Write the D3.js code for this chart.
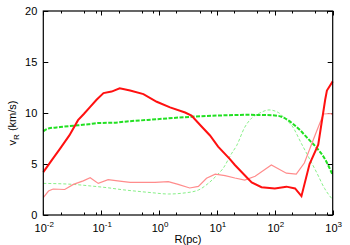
<!DOCTYPE html>
<html>
<head>
<meta charset="utf-8">
<script src="https://cdn.jsdelivr.net/npm/d3@7"></script>
<style>
  body { margin: 0; background: #fff; }
  text { font-family: "Liberation Sans", Arial, sans-serif; fill: #000; }
</style>
</head>
<body>
<div id="chart"></div>
<script>
// values; R given as log10(R/pc)
var thickRedLogR = [-2.0, -1.85, -1.71, -1.55, -1.4, -1.3, -1.19, -1.08, -0.96, -0.82, -0.68, -0.5, -0.27, -0.04, 0.19, 0.45, 0.56, 0.73, 0.88, 1.02, 1.22, 1.31, 1.48, 1.6, 1.77, 2.0, 2.2, 2.35, 2.46, 2.6, 2.75, 2.87, 2.9, 3.0];
var thickRedV = [4.2, 5.4, 6.5, 7.8, 9.3, 9.9, 10.6, 11.3, 11.95, 12.1, 12.42, 12.2, 11.85, 11.1, 10.55, 10.05, 9.75, 8.7, 7.8, 6.7, 5.5, 4.9, 3.9, 3.2, 2.72, 2.6, 2.78, 2.6, 1.85, 5.0, 6.9, 11.3, 12.2, 13.1];

var thinRedLogR = [-2.0, -1.91, -1.83, -1.63, -1.48, -1.31, -1.19, -1.05, -0.88, -0.68, -0.5, -0.07, 0.16, 0.33, 0.53, 0.68, 0.82, 0.97, 1.14, 1.31, 1.48, 1.66, 1.94, 2.2, 2.37, 2.51, 2.7, 2.84, 2.97, 3.0];
var thinRedV = [1.7, 2.35, 2.55, 2.5, 3.0, 3.35, 3.66, 3.1, 3.46, 3.33, 3.2, 3.2, 3.27, 3.0, 2.65, 2.8, 3.6, 4.0, 3.86, 3.63, 3.43, 3.8, 4.9, 4.1, 4.0, 5.1, 7.9, 9.9, 9.95, 9.8];

var thickGreenLogR = [-2.0, -1.91, -1.71, -1.48, -1.22, -1.05, -0.79, -0.5, -0.2, 0.16, 0.56, 1.02, 1.5, 1.85, 2.06, 2.17, 2.3, 2.43, 2.57, 2.72, 2.86, 3.0];
var thickGreenV = [8.2, 8.48, 8.62, 8.75, 8.9, 9.02, 9.05, 9.2, 9.32, 9.48, 9.63, 9.75, 9.82, 9.8, 9.72, 9.5, 9.0, 8.35, 7.5, 6.6, 5.55, 3.9];

var thinGreenLogR = [-2.0, -1.48, -1.19, -0.9, -0.62, -0.33, -0.13, 0.16, 0.45, 0.68, 0.85, 1.0, 1.11, 1.25, 1.34, 1.48, 1.6, 1.74, 1.9, 2.06, 2.2, 2.29, 2.46, 2.6, 2.72, 2.86, 3.0];
var thinGreenV = [3.1, 3.0, 2.85, 2.68, 2.47, 2.3, 2.19, 2.06, 2.17, 2.45, 3.1, 3.9, 4.6, 6.0, 6.8, 8.6, 9.5, 10.0, 10.3, 10.05, 9.3, 8.8, 7.0, 5.5, 4.2, 2.6, 1.5];

var xTickExp = [-2, -1, 0, 1, 2, 3];
var xMinorMult = [2, 5, 8];
var yTicks = [0, 5, 10, 15, 20];

(function() {
  "use strict";

  var width = 350,
    height = 245,
    pLeft = 43.3,
    pRight = 332.7,
    pTop = 11,
    pBottom = 215;

  var svg = d3.select('#chart')
    .append('svg')
    .attr('width', width)
    .attr('height', height);

  var x = d3.scaleLog().domain([0.01, 1000]).range([pLeft, pRight]);
  var y = d3.scaleLinear().domain([0, 20]).range([pBottom, pTop]);

  // ticks, gnuplot style: inside, mirrored
  var minor = [];
  xTickExp.slice(0, -1).forEach(function(e) {
    xMinorMult.forEach(function(m) { minor.push(m * Math.pow(10, e)); });
  });

  var ticks = svg.append('g').attr('stroke', '#000').attr('stroke-width', 1);
  xTickExp.forEach(function(e) {
    var px = Math.round(x(Math.pow(10, e))) + 0.5;
    ticks.append('line').attr('x1', px).attr('x2', px).attr('y1', pBottom).attr('y2', pBottom - 4.5);
    ticks.append('line').attr('x1', px).attr('x2', px).attr('y1', pTop).attr('y2', pTop + 4.5);
  });
  minor.forEach(function(v) {
    var px = Math.round(x(v)) + 0.5;
    ticks.append('line').attr('x1', px).attr('x2', px).attr('y1', pBottom).attr('y2', pBottom - 2.5);
    ticks.append('line').attr('x1', px).attr('x2', px).attr('y1', pTop).attr('y2', pTop + 2.5);
  });
  yTicks.forEach(function(v) {
    var py = Math.round(y(v)) + 0.5;
    ticks.append('line').attr('x1', pLeft).attr('x2', pLeft + 5).attr('y1', py).attr('y2', py);
    ticks.append('line').attr('x1', pRight).attr('x2', pRight - 5).attr('y1', py).attr('y2', py);
  });

  // curves
  var series = [
    { lx: thinGreenLogR, v: thinGreenV, color: '#88f088', w: 1, dash: '3,2', curve: d3.curveMonotoneX },
    { lx: thickGreenLogR, v: thickGreenV, color: '#22e022', w: 2, dash: '4,1.5', curve: d3.curveMonotoneX },
    { lx: thinRedLogR, v: thinRedV, color: '#ff8c8c', w: 1.2, dash: null, curve: d3.curveLinear },
    { lx: thickRedLogR, v: thickRedV, color: '#ff1010', w: 2, dash: null, curve: d3.curveLinear }
  ];

  series.forEach(function(s) {
    var pts = s.lx.map(function(e, i) { return [Math.pow(10, e), s.v[i]]; });
    var line = d3.line()
      .x(function(d) { return x(d[0]); })
      .y(function(d) { return y(d[1]); })
      .curve(s.curve);
    svg.append('path')
      .datum(pts)
      .attr('fill', 'none')
      .attr('stroke', s.color)
      .attr('stroke-width', s.w)
      .attr('stroke-dasharray', s.dash)
      .attr('d', line);
  });

  // frame
  svg.append('rect')
    .attr('x', pLeft)
    .attr('y', pTop)
    .attr('width', pRight - pLeft)
    .attr('height', pBottom - pTop)
    .attr('fill', 'none')
    .attr('stroke', '#000')
    .attr('stroke-width', 1.2);

  // tick labels
  yTicks.forEach(function(v) {
    svg.append('text')
      .attr('x', pLeft - 6)
      .attr('y', y(v) + 4)
      .attr('text-anchor', 'end')
      .attr('font-size', 11)
      .text(v);
  });

  xTickExp.forEach(function(e) {
    var t = svg.append('text')
      .attr('x', x(Math.pow(10, e)) + 1)
      .attr('y', 232)
      .attr('text-anchor', 'middle')
      .attr('font-size', 11);
    t.append('tspan').text('10');
    t.append('tspan').attr('dy', -5).attr('font-size', 8).text(e);
  });

  svg.append('text')
    .attr('x', (pLeft + pRight) / 2)
    .attr('y', 243)
    .attr('text-anchor', 'middle')
    .attr('font-size', 11)
    .text('R(pc)');

  var yl = svg.append('text')
    .attr('transform', 'translate(16,123) rotate(-90)')
    .attr('text-anchor', 'middle')
    .attr('font-size', 11);
  yl.append('tspan').text('v');
  yl.append('tspan').attr('dy', 3).attr('font-size', 8).text('R');
  yl.append('tspan').attr('dy', -3).text(' (km/s)');
})();
</script>
</body>
</html>
